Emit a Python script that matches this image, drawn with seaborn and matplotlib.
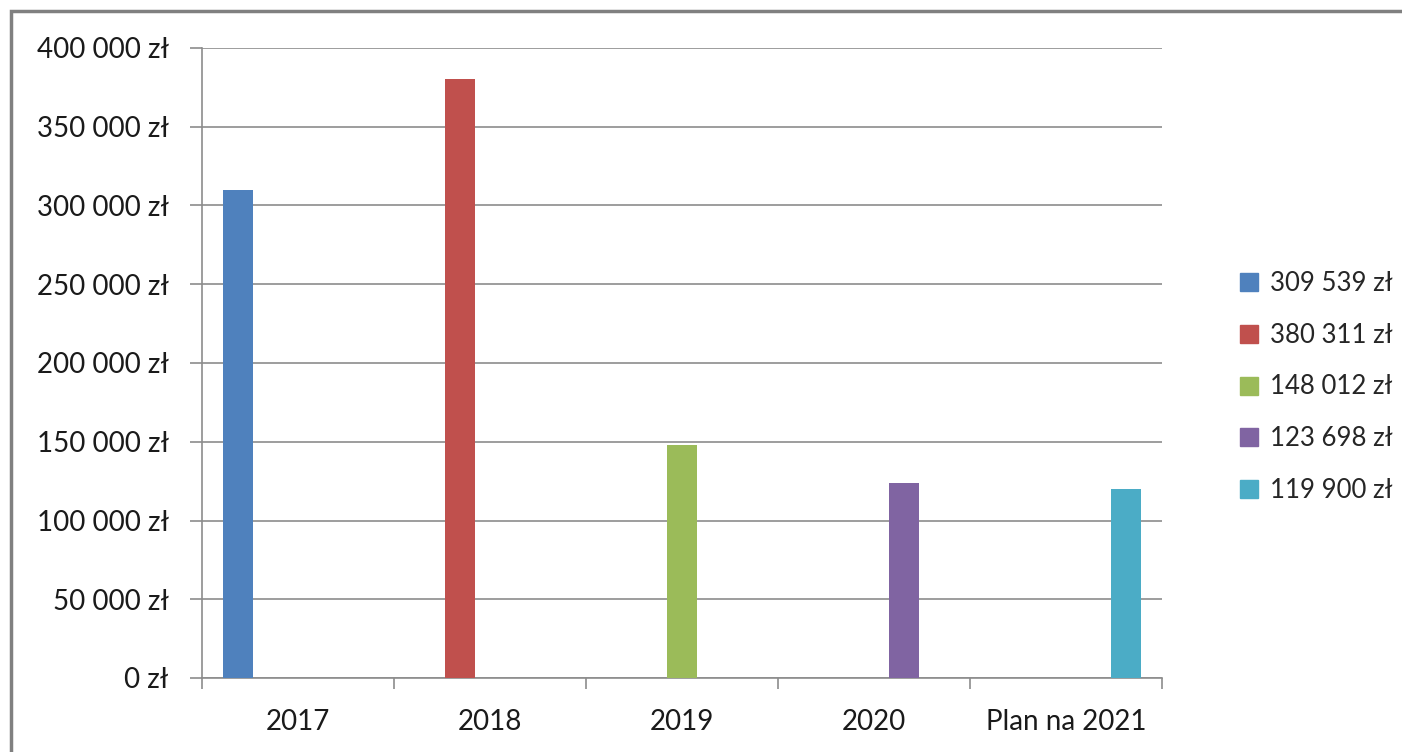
import matplotlib
matplotlib.use("Agg")
import matplotlib.pyplot as plt
import matplotlib.patches as mpatches
import seaborn as sns
import pandas as pd
from matplotlib.ticker import FuncFormatter, FixedLocator

# Data
years = ["2017", "2018", "2019", "2020", "Plan na 2021"]
amounts = [309539, 380311, 148012, 123698, 119900]
labels = ["309 539 zł", "380 311 zł", "148 012 zł", "123 698 zł", "119 900 zł"]
colors = ["#4F81BD", "#C0504D", "#9BBB59", "#8064A2", "#4BACC6"]

df = pd.DataFrame({"Rok": years, "Kwota": amounts, "Seria": labels})

sns.set_style("white")
plt.rcParams["font.family"] = ["Lato", "DejaVu Sans"]

W, H = 1402, 752
fig = plt.figure(figsize=(W / 100, H / 100), dpi=100)
ax = fig.add_axes([202 / W, 1 - 678 / H, 960 / W, 630 / H])

sns.barplot(data=df, x="Rok", y="Kwota", hue="Seria", hue_order=labels,
            order=years, palette=colors, width=0.78, gap=0, dodge=True,
            saturation=1, edgecolor="none", ax=ax, zorder=3)

# Axes styling
ax.set_xlim(-0.5, len(years) - 0.5)
ax.set_ylim(0, 400000)
ax.set_yticks(range(0, 400001, 50000))
ax.yaxis.set_major_formatter(FuncFormatter(lambda v, p: f"{int(v):,}".replace(",", " ") + " zł"))
ax.grid(axis="y", color="#8c8c8c", linewidth=1.2, zorder=0)
ax.set_axisbelow(True)
for s in ["top", "right"]:
    ax.spines[s].set_visible(False)
for s in ["left", "bottom"]:
    ax.spines[s].set_color("#8c8c8c")
    ax.spines[s].set_linewidth(1.2)

ax.set_xlabel("")
ax.set_ylabel("")
ax.tick_params(axis="y", length=9, width=1.2, color="#8c8c8c", pad=15,
               labelsize=20, labelcolor="#1a1a1a", left=True)
ax.tick_params(axis="x", which="major", length=0, pad=22, labelsize=20,
               labelcolor="#1a1a1a")
ax.xaxis.set_minor_locator(FixedLocator([i - 0.5 for i in range(len(years) + 1)]))
ax.tick_params(axis="x", which="minor", length=8, width=1.2, color="#8c8c8c",
               bottom=True)

# Legend on the right
handles = [mpatches.Patch(color=c, label=l) for c, l in zip(colors, labels)]
if ax.get_legend() is not None:
    ax.get_legend().remove()
fig.legend(handles=handles, loc="center left", bbox_to_anchor=(1230 / W, 1 - 387 / H),
           frameon=False, fontsize=18.5, handlelength=0.7, handleheight=0.7,
           handletextpad=0.45, labelspacing=1.05, borderaxespad=0)

# Gray frame around the chart area
fig.add_artist(mpatches.Rectangle((11 / W, -0.1), 1.2, 1.1 - 11 / H,
                                  transform=fig.transFigure, fill=False,
                                  edgecolor="#808080", linewidth=2.5))

fig.savefig("out.png", dpi=100)
plt.close(fig)
